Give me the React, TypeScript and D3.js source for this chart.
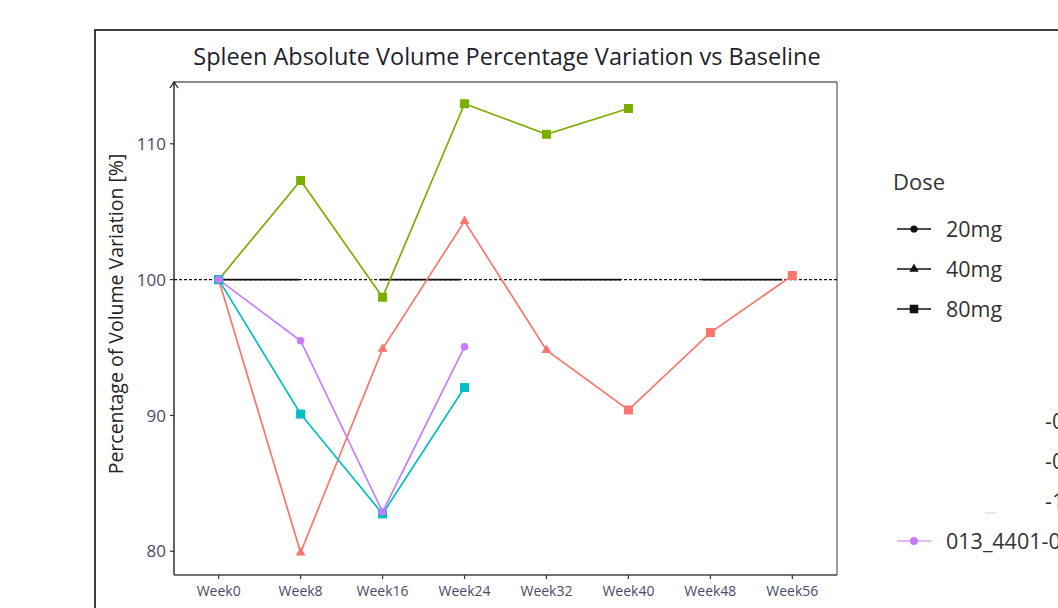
import React from "react";
import * as d3 from "d3";

const weeks = ["Week0", "Week8", "Week16", "Week24", "Week32", "Week40", "Week48", "Week56"];
const yTicks = [80, 90, 100, 110];

const redValues = [100, 79.9, 94.9, 104.3, 94.8, 90.4, 96.1, 100.3];
const redShapes = ["square", "triangle", "triangle", "triangle", "triangle", "square", "square", "square"];
const greenValues = [100, 107.3, 98.7, 112.95, 110.7, 112.6];
const greenShapes = ["square", "square", "square", "square", "square", "square"];
const cyanValues = [100, 90.1, 82.75, 92.05];
const cyanShapes = ["square", "square", "square", "square"];
const purpleValues = [100, 95.5, 82.9, 95.05];
const purpleShapes = ["circle", "circle", "circle", "circle"];

const doseLabels = ["20mg", "40mg", "80mg"];
const doseShapes = ["circle", "triangle", "square"];
const subjectLabels = ["-0", "-0", "-1"];
const purpleLabel = "013_4401-0";

const series = [
  { color: "#F8766D", values: redValues, shapes: redShapes },
  { color: "#7CAE00", values: greenValues, shapes: greenShapes },
  { color: "#00BFC4", values: cyanValues, shapes: cyanShapes },
  { color: "#C77CFF", values: purpleValues, shapes: purpleShapes },
];

const FONT = "'Open Sans', 'Noto Sans', sans-serif";

function Marker({ shape, x, y, color, scale = 1 }: { shape: string; x: number; y: number; color: string; scale?: number }) {
  if (shape === "square") {
    const s = 9 * scale;
    return <rect x={x - s / 2} y={y - s / 2} width={s} height={s} fill={color} />;
  }
  if (shape === "triangle") {
    const sym = d3.symbol().type(d3.symbolTriangle).size(42 * scale * scale)();
    return <path d={sym || ""} transform={`translate(${x},${y})`} fill={color} />;
  }
  return <circle cx={x} cy={y} r={3.8 * scale} fill={color} />;
}

export default function App() {
  const left = 174, right = 837, top = 82, bottom = 575;
  const x = d3.scalePoint<string>().domain(weeks).range([left, right]).padding(0.545);
  const y = d3.scaleLinear().domain([78.25, 114.55]).range([bottom, top]);
  const step = x.step();
  const line = d3.line<[number, number]>().x((d) => d[0]).y((d) => d[1]);

  return (
    <svg width={1058} height={608} style={{ position: "absolute", left: 0, top: 0, background: "#fff" }} fontFamily={FONT}>
      <defs>
        <clipPath id="panel">
          <rect x={left} y={top} width={right - left} height={bottom - top} />
        </clipPath>
      </defs>
      {/* outer frame */}
      <rect x={95} y={30} width={1100} height={700} fill="none" stroke="#111" strokeWidth={1.6} />
      {/* title */}
      <text x={507} y={65} textAnchor="middle" fontSize={23.5} fill="#1e1e2e">
        Spleen Absolute Volume Percentage Variation vs Baseline
      </text>
      {/* panel border */}
      <line x1={left} x2={right} y1={top} y2={top} stroke="#666" strokeWidth={1.3} />
      <line x1={right} x2={right} y1={top} y2={bottom} stroke="#666" strokeWidth={1.3} />
      {/* reference line at 100 */}
      <line x1={left} x2={right} y1={y(100)} y2={y(100)} stroke="#111" strokeWidth={1.4} strokeDasharray="3,2" />
      <line
        x1={x("Week0")!}
        x2={right}
        y1={y(100)}
        y2={y(100)}
        stroke="#111"
        strokeWidth={1.6}
        strokeDasharray={`${step * 0.98},${step * 0.985}`}
      />
      {/* series */}
      <g clipPath="url(#panel)">
        {series.map((s, i) => (
          <path
            key={"l" + i}
            d={line(s.values.map((v, j) => [x(weeks[j])!, y(v)])) || ""}
            fill="none"
            stroke={s.color}
            strokeWidth={1.7}
          />
        ))}
        {series.map((s, i) => (
          <g key={"m" + i}>
            {s.values.map((v, j) => (
              <Marker key={j} shape={s.shapes[j]} x={x(weeks[j])!} y={y(v)} color={s.color} />
            ))}
          </g>
        ))}
      </g>
      {/* axes */}
      <line x1={left} x2={left} y1={top} y2={bottom} stroke="#222" strokeWidth={1.4} />
      <path d={`M${left - 4},${top + 6} L${left},${top} L${left + 4},${top + 6}`} fill="none" stroke="#222" strokeWidth={1.3} />
      <line x1={left} x2={right} y1={bottom} y2={bottom} stroke="#444" strokeWidth={1.4} />
      {yTicks.map((t) => (
        <g key={t}>
          <line x1={left - 4} x2={left} y1={y(t)} y2={y(t)} stroke="#333" strokeWidth={1.2} />
          <text x={left - 8} y={y(t)} dy="0.36em" textAnchor="end" fontSize={17} fill="#4a4a66">
            {t}
          </text>
        </g>
      ))}
      {weeks.map((w) => (
        <g key={w}>
          <line x1={x(w)!} x2={x(w)!} y1={bottom} y2={bottom + 4} stroke="#333" strokeWidth={1.2} />
          <text x={x(w)!} y={bottom + 21} textAnchor="middle" fontSize={14} fill="#4a4a66">
            {w}
          </text>
        </g>
      ))}
      <text
        transform={`translate(123,314) rotate(-90)`}
        textAnchor="middle"
        fontSize={19.5}
        fill="#222"
      >
        Percentage of Volume Variation [%]
      </text>
      {/* legend Dose */}
      <text x={893} y={190} fontSize={22} fill="#333">Dose</text>
      {doseLabels.map((d, i) => {
        const yy = 229 + i * 40;
        return (
          <g key={d}>
            <line x1={897} x2={931} y1={yy} y2={yy} stroke="#111" strokeWidth={1.3} />
            <Marker shape={doseShapes[i]} x={914} y={yy} color="#111" scale={0.95} />
            <text x={946} y={yy} dy="0.35em" fontSize={21.5} fill="#333">
              {d}
            </text>
          </g>
        );
      })}
      {subjectLabels.map((s, i) => (
        <text key={i} x={1045} y={421 + i * 40} dy="0.35em" fontSize={21.5} fill="#333">
          {s}
        </text>
      ))}
      <line x1={985} x2={996} y1={513} y2={513} stroke="#ccc" strokeWidth={1} />
      <g>
        <line x1={897} x2={931} y1={541} y2={541} stroke="#C77CFF" strokeWidth={1.3} opacity={0.7} />
        <Marker shape="circle" x={914} y={541} color="#C77CFF" scale={1.05} />
        <text x={946} y={541} dy="0.35em" fontSize={21.5} fill="#333">
          {purpleLabel}
        </text>
      </g>
    </svg>
  );
}
